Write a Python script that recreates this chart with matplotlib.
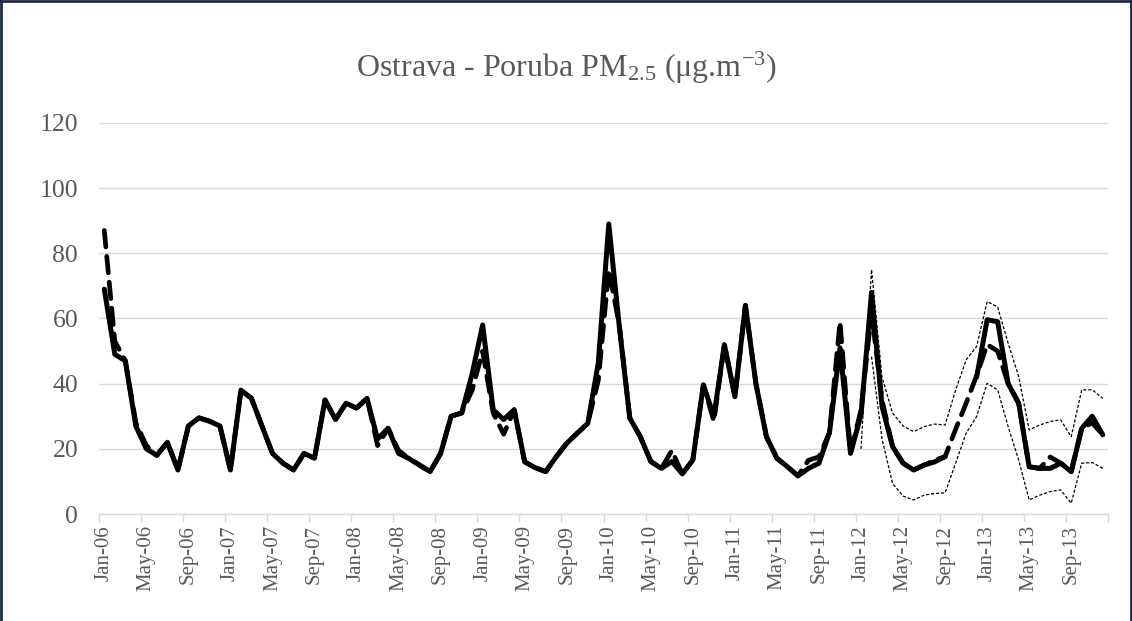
import numpy as np
import matplotlib
matplotlib.use('Agg')
import matplotlib.pyplot as plt

# monthly PM2.5, Jan-06 .. Dec-13
observed = np.array(
    [69, 49, 47, 27, 20, 18, 22, 13.5, 27, 29.5, 28.5, 27] +          # 2006
    [13.5, 38, 35.5, 27, 18.6, 15.6, 13.5, 18.6, 17.1, 35, 29, 34] +   # 2007
    [32.5, 35.5, 23, 26.3, 18.6, 17, 15, 13, 18.6, 30, 31, 43] +       # 2008
    [58, 32, 29, 32, 16, 14.2, 13, 17.6, 21.7, 24.8, 27.8, 46.3] +     # 2009
    [89, 57.5, 29.4, 23.7, 16.1, 14, 16.1, 12.3, 16.6, 39.6, 30, 52] + # 2010
    [36, 64, 40, 23.7, 17.1, 14.5, 11.7, 14, 15.6, 25, 51, 18.6] +     # 2011
    [30.4, 68, 33, 20.7, 15.6, 13.5, 15, 16, 17.6, np.nan, np.nan, 42] +  # 2012
    [59.6, 59, 40, 34, 14.5, 14, 14, 15.6, 13, 26.3, 30, 24.3]         # 2013
)

model = np.array(
    [87, 53, 47, 28, 21, 18, 22, 13.5, 27, 29.5, 28.5, 27] +
    [13.5, 38, 35.5, 27, 18.6, 15.6, 13.5, 18.6, 17.1, 35, 29, 34] +
    [32.5, 35.5, 21, 26.3, 19.5, 17, 15, 13, 18.6, 30, 31, 38] +
    [50, 31, 24.5, 32, 16, 14.2, 13, 17.6, 21.7, 24.8, 27.8, 41] +
    [75, 58, 29.4, 23.7, 16.1, 14, 19.5, 12.3, 16.6, 39.6, 28.5, 52] +
    [36, 64, 40, 23.7, 17.1, 14.5, 11.7, 16.5, 17.5, 25, 59, 18.6] +
    [32, 62, 35, 20.7, 15.6, 13.5, 15, 16.5, 17.6, 26, 34, 42.5] +
    [52, 50, 40, 34, 14.5, 14, 17.5, 15.6, 13, 26.3, 28, 24.3]
)

# prediction interval, only for 2012-2013
upper = np.array([np.nan] * 72 +
    [20, 75, 42, 31, 27, 25.3, 26.8, 27.6, 27.3, 38, 47.3, 51.4] +
    [65.2, 63.5, 52.4, 42.2, 25.8, 27.3, 28.4, 28.9, 23.7, 38.1, 38.1, 35.5])
lower = np.array([np.nan] * 72 +
    [np.nan, 48.3, 23, 9.4, 5.5, 4.3, 5.8, 6.3, 6.5, 15.6, 24.8, 29.9] +
    [40.1, 38.1, 26.8, 16.6, 4.3, 5.8, 6.9, 7.4, 3.3, 15.6, 15.8, 14.0])

tick_labels = ['Jan-06', 'May-06', 'Sep-06', 'Jan-07', 'May-07', 'Sep-07',
               'Jan-08', 'May-08', 'Sep-08', 'Jan-09', 'May-09', 'Sep-09',
               'Jan-10', 'May-10', 'Sep-10', 'Jan-11', 'May-11', 'Sep-11',
               'Jan-12', 'May-12', 'Sep-12', 'Jan-13', 'May-13', 'Sep-13']

plt.rcParams['font.family'] = ['Liberation Serif', 'DejaVu Serif']
plt.rcParams['mathtext.fontset'] = 'custom'
plt.rcParams['mathtext.rm'] = 'Liberation Serif'
plt.rcParams['mathtext.default'] = 'regular'

grey = '#595959'
grid = '#d9d9d9'

fig = plt.figure(figsize=(11.32, 6.21), dpi=100)
ax = fig.add_axes([0.0875, 0.1723, 0.8913, 0.6297])

x = np.arange(len(observed))
ax.plot(x, model, color='black', lw=3.4, ls=(0, (3.5, 2.0)), zorder=3,
        dash_capstyle='round', dash_joinstyle='round')
ax.plot(x, observed, color='black', lw=3.6, zorder=4,
        solid_capstyle='round', solid_joinstyle='round')
ax.plot(x, upper, color='black', lw=0.9, ls=(0, (2.5, 1.5)), zorder=5)
ax.plot(x, lower, color='black', lw=0.9, ls=(0, (2.5, 1.5)), zorder=5)

ax.set_xlim(-0.5, len(observed) - 0.5)
ax.set_ylim(0, 120)
ax.set_yticks(np.arange(0, 121, 20))
ax.yaxis.grid(True, color=grid, lw=1)
ax.set_axisbelow(True)
ax.tick_params(axis='y', length=0, pad=15, labelsize=18.5, labelcolor=grey)

# labels under month centres, tick marks on boundaries
ax.set_xticks(np.arange(0, 96, 4))
ax.set_xticklabels(tick_labels, rotation=90)
ax.tick_params(axis='x', which='major', length=0, pad=8, labelsize=15, labelcolor=grey)
ax.set_xticks(np.arange(-0.5, 96, 4), minor=True)
ax.tick_params(axis='x', which='minor', length=6, width=1, color=grid)

for s in ['top', 'right', 'left']:
    ax.spines[s].set_visible(False)
ax.spines['bottom'].set_color(grid)
ax.spines['bottom'].set_linewidth(1)

fig.text(0.5, 0.89, 'Ostrava - Poruba PM$_{2.5}$ (\u03bcg.m$^{-3}$)',
         ha='center', va='center', fontsize=23, color=grey)

# thin dark frame round the chart
for xs, ys in [([0.001, 0.001], [0, 1]), ([0, 1], [0.998, 0.998]), ([0.999, 0.999], [0, 1])]:
    fig.add_artist(plt.Line2D(xs, ys, color='#1f2a44', lw=2, transform=fig.transFigure))

fig.savefig('out.png', dpi=100)
